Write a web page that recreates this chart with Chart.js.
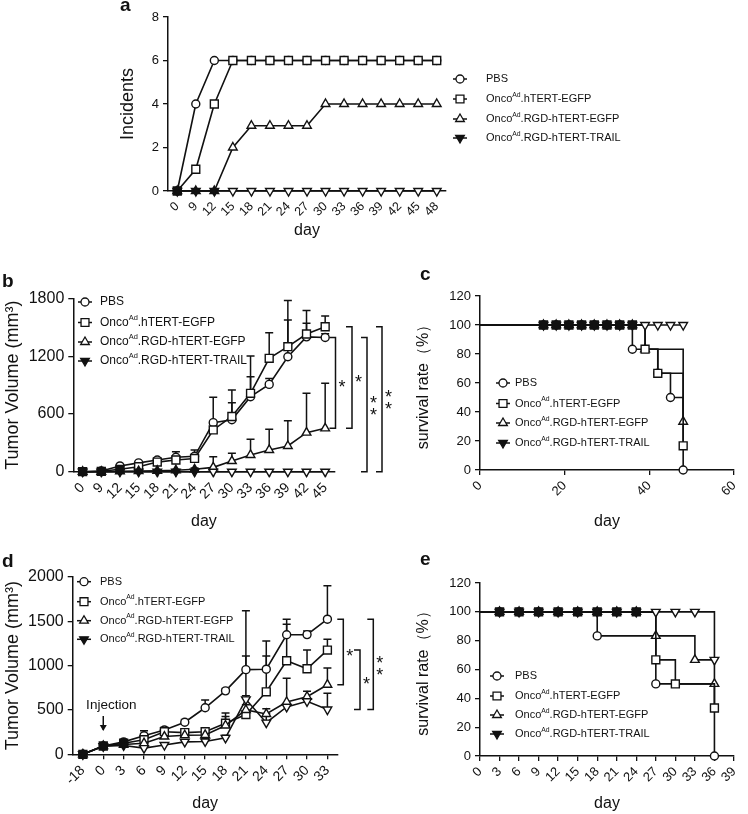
<!DOCTYPE html>
<html><head><meta charset="utf-8">
<script src="https://cdn.jsdelivr.net/npm/chart.js@4.4.1/dist/chart.umd.min.js"></script>
<style>
html,body{margin:0;padding:0;background:#fff;}
body{width:748px;height:814px;position:relative;overflow:hidden;}
canvas{position:absolute;}
</style></head><body>
<canvas id="ca" style="left:0;top:0;width:748px;height:244px" width="748" height="244"></canvas>
<canvas id="cb" style="left:0;top:250px;width:400px;height:285px" width="400" height="285"></canvas>
<canvas id="cc" style="left:380px;top:250px;width:368px;height:285px" width="368" height="285"></canvas>
<canvas id="cd" style="left:0;top:540px;width:400px;height:277px" width="400" height="277"></canvas>
<canvas id="ce" style="left:380px;top:540px;width:368px;height:277px" width="368" height="277"></canvas>
<script>
// ---------------- DATA ----------------
const seriesNames = ['PBS', 'Onco{Ad}.hTERT-EGFP', 'Onco{Ad}.RGD-hTERT-EGFP', 'Onco{Ad}.RGD-hTERT-TRAIL'];

// Panel a: incidents
const daysA = ['0','9','12','15','18','21','24','27','30','33','36','39','42','45','48'];
const incPBS   = [0,4,6,6,6,6,6,6,6,6,6,6,6,6,6];
const incEGFP  = [0,1,4,6,6,6,6,6,6,6,6,6,6,6,6];
const incRGD   = [0,0,0,2,3,3,3,3,4,4,4,4,4,4,4];
const incTRAIL = [0,0,0,0,0,0,0,0,0,0,0,0,0,0,0];
const ticksA_y = [0,2,4,6,8];

// Panel b: tumor volume
const daysB = ['0','9','12','15','18','21','24','27','30','33','36','39','42','45'];
const volB_PBS   = [0, 8, 60, 92, 122, 150, 160, 510, 540, 780, 908, 1195, 1402, 1395];
const volB_EGFP  = [0, 4, 25, 52, 100, 122, 138, 434, 574, 815, 1179, 1300, 1432, 1507];
const volB_RGD   = [0, 0, 4, 6, 10, 15, 25, 45, 111, 174, 226, 267, 406, 451];
const volB_TRAIL = [0, 0, 0, 0, 0, 0, 0, 0, 0, 0, 0, 0, 0, 0];
const errB_PBS   = [0, 0, 10, 14, 22, 58, 66, 264, 178, 208, 60, 584, 141, 40];
const errB_EGFP  = [0, 0, 8, 15, 25, 38, 40, 60, 276, 388, 267, 278, 243, 112];
const errB_RGD   = [0, 0, 0, 0, 4, 8, 14, 111, 80, 163, 215, 264, 409, 468];
const errB_TRAIL = [0, 0, 0, 0, 0, 0, 0, 0, 0, 0, 0, 0, 0, 0];

// Panel c: survival
const survC_PBS_x   = [0,15,18,21,24,27,30,33,36,42,45,48];
const survC_PBS_y   = [100,100,100,100,100,100,100,100,83.3,66.7,50,0];
const survC_EGFP_x  = [0,15,18,21,24,27,30,33,36,39,42,48];
const survC_EGFP_y  = [100,100,100,100,100,100,100,100,100,83.3,66.7,16.7];
const survC_RGD_x   = [0,15,18,21,24,27,30,33,36,39,48];
const survC_RGD_y   = [100,100,100,100,100,100,100,100,100,83.3,33.3];
const survC_TRAIL_x = [0,15,18,21,24,27,30,33,36,39,42,45,48];
const survC_TRAIL_y = [100,100,100,100,100,100,100,100,100,100,100,100,100];

// Panel d: tumor volume
const daysD = ['-18','0','3','6','9','12','15','18','21','24','27','30','33'];
const volD_PBS   = [0, 94, 140, 210, 274, 362, 525, 716, 955, 960, 1348, 1350, 1524];
const volD_EGFP  = [0, 94, 125, 165, 255, 245, 255, 350, 448, 705, 1055, 965, 1176];
const volD_RGD   = [0, 94, 110, 125, 200, 215, 218, 325, 500, 455, 590, 650, 785];
const volD_TRAIL = [0, 90, 100, 70, 105, 140, 145, 185, 620, 357, 535, 598, 505];
const errD_PBS   = [0, 8, 15, 56, 30, 30, 87, 25, 665, 318, 175, 41, 378];
const errD_EGFP  = [0, 8, 15, 40, 30, 30, 40, 115, 661, 404, 411, 211, 121];
const errD_RGD   = [0, 5, 10, 30, 30, 30, 40, 100, 60, 60, 267, 60, 188];
const errD_TRAIL = [0, 5, 10, 20, 20, 20, 30, 30, 40, 100, 40, 40, 183];

// Panel e: survival
const survE_PBS_x   = [0,3,6,9,12,15,18,27,36];
const survE_PBS_y   = [100,100,100,100,100,100,83.3,50,0];
const survE_EGFP_x  = [0,3,6,9,12,15,18,21,24,27,30,36];
const survE_EGFP_y  = [100,100,100,100,100,100,100,100,100,66.7,50,33.3];
const survE_RGD_x   = [0,3,6,9,12,15,18,21,24,27,33,36];
const survE_RGD_y   = [100,100,100,100,100,100,100,100,100,83.3,66.7,50];
const survE_TRAIL_x = [0,3,6,9,12,15,18,21,24,27,30,33,36];
const survE_TRAIL_y = [100,100,100,100,100,100,100,100,100,100,100,100,66.7];

// ---------------- STYLE ----------------
const BLACK = '#111';
const FONT = "'Liberation Sans', Arial, Helvetica, sans-serif";
const markerStyle = [
  {pointStyle: 'circle', rotation: 0, r: 4},
  {pointStyle: 'rect', rotation: 0, r: 5.6},
  {pointStyle: 'triangle', rotation: 0, r: 5},
  {pointStyle: 'triangle', rotation: 180, r: 5}
];

function drawMarker(ctx, k, x, y, fill) {
  const r = markerStyle[k].r;
  ctx.beginPath();
  if (k === 0) ctx.arc(x, y, r, 0, Math.PI * 2);
  else if (k === 1) { const s = r * Math.SQRT1_2; ctx.rect(x - s, y - s, 2 * s, 2 * s); }
  else {
    const d = (k === 2) ? -1 : 1;
    ctx.moveTo(x, y + d * r);
    ctx.lineTo(x + r * 0.866, y - d * r * 0.5);
    ctx.lineTo(x - r * 0.866, y - d * r * 0.5);
    ctx.closePath();
  }
  ctx.fillStyle = fill; ctx.fill(); ctx.stroke();
}

function drawLabel(ctx, text, x, y, size) {
  const parts = text.split(/(\{[^}]*\})/);
  let cx = x;
  ctx.textBaseline = 'middle'; ctx.textAlign = 'left'; ctx.fillStyle = BLACK;
  parts.forEach(p => {
    if (!p) return;
    if (p[0] === '{') {
      const s = p.slice(1, -1);
      ctx.font = (size * 0.62) + 'px ' + FONT;
      ctx.fillText(s, cx, y - size * 0.38);
      cx += ctx.measureText(s).width;
    } else {
      ctx.font = size + 'px ' + FONT;
      ctx.fillText(p, cx, y);
      cx += ctx.measureText(p).width;
    }
  });
}

// markers that coincide with the TRAIL series look solid in the original (stacked symbols)
function overlapFill(c) {
  const p = c.raw;
  if (!p) return '#fff';
  const dsets = c.chart.data.datasets;
  const tol = (c.chart.options.scales.y.max || 1) * 0.02;
  const same = (q) => q.x === p.x && Math.abs(q.y - p.y) <= tol;
  let hit = false;
  if (c.datasetIndex === 3) {
    for (let k = 0; k < 3 && !hit; k++) hit = dsets[k].data.some(same);
  } else {
    hit = dsets[3].data.some(same);
  }
  return hit ? BLACK : '#fff';
}

function makeDeco(cfg) {
  return {
    id: 'deco',
    beforeDatasetsDraw(chart) {
      const ctx = chart.ctx, ys = chart.scales.y;
      chart.data.datasets.forEach((ds, k) => {
        if (!ds.errors) return;
        const meta = chart.getDatasetMeta(k);
        meta.data.forEach((pt, i) => {
          const e = ds.errors[i];
          if (!e) return;
          const yt = ys.getPixelForValue(ds.data[i].y + e);
          ctx.save();
          ctx.strokeStyle = BLACK; ctx.lineWidth = 1.5;
          ctx.beginPath();
          ctx.moveTo(pt.x, pt.y); ctx.lineTo(pt.x, yt);
          ctx.moveTo(pt.x - 4, yt); ctx.lineTo(pt.x + 4, yt);
          ctx.stroke();
          ctx.restore();
        });
      });
    },
    afterDraw(chart) {
      const ctx = chart.ctx, ys = chart.scales.y, ca = chart.chartArea;
      ctx.save();
      if (cfg.letter) {
        ctx.font = 'bold 19px ' + FONT; ctx.fillStyle = BLACK;
        ctx.textAlign = 'left'; ctx.textBaseline = 'alphabetic';
        ctx.fillText(cfg.letter.t, cfg.letter.x, cfg.letter.y);
      }
      if (cfg.legend) {
        const L = cfg.legend;
        seriesNames.forEach((name, k) => {
          const y = L.ys[k];
          ctx.strokeStyle = BLACK; ctx.lineWidth = 1.5;
          ctx.beginPath(); ctx.moveTo(L.mx - 7, y); ctx.lineTo(L.mx + 7, y); ctx.stroke();
          ctx.lineWidth = 1.3;
          drawMarker(ctx, k, L.mx, y, k === 3 ? BLACK : '#fff');
          drawLabel(ctx, name, L.tx, y, L.size);
        });
      }
      if (cfg.brackets) {
        cfg.brackets.forEach(b => {
          const dsA = chart.data.datasets[b.from[0]], dsB = chart.data.datasets[b.to[0]];
          const y1 = ys.getPixelForValue(dsA.data[b.from[1]].y);
          const y2 = ys.getPixelForValue(dsB.data[b.to[1]].y);
          const x = ca.right + b.dx;
          ctx.strokeStyle = BLACK; ctx.lineWidth = 1.5;
          ctx.beginPath();
          ctx.moveTo(x - 6, y1); ctx.lineTo(x, y1); ctx.lineTo(x, y2); ctx.lineTo(x - 6, y2);
          ctx.stroke();
          const mid = (y1 + y2) / 2;
          ctx.font = '18px ' + FONT; ctx.fillStyle = BLACK;
          ctx.textAlign = 'center'; ctx.textBaseline = 'alphabetic';
          const off = 18 * 0.57;
          if (b.stars === 1) ctx.fillText('*', x + 6.5, mid + off);
          else { ctx.fillText('*', x + 6.5, mid - 6 + off); ctx.fillText('*', x + 6.5, mid + 6 + off); }
        });
      }
      if (cfg.injection) {
        const xs = chart.scales.x;
        const ax = xs.getPixelForValue(cfg.injection.index);
        ctx.fillStyle = BLACK; ctx.textAlign = 'center'; ctx.textBaseline = 'middle';
        ctx.font = '13.5px ' + FONT;
        ctx.fillText('Injection', ax + 8, cfg.injection.ty);
        ctx.strokeStyle = BLACK; ctx.lineWidth = 1.5;
        ctx.beginPath(); ctx.moveTo(ax, cfg.injection.ay0); ctx.lineTo(ax, cfg.injection.ay1 - 1); ctx.stroke();
        ctx.beginPath();
        ctx.moveTo(ax, cfg.injection.ay1);
        ctx.lineTo(ax - 3.5, cfg.injection.ay1 - 6);
        ctx.lineTo(ax + 3.5, cfg.injection.ay1 - 6);
        ctx.closePath(); ctx.fill();
      }
      ctx.restore();
    }
  };
}

function baseScale(size, fixed, isX) {
  return {
    border: {display: true, color: BLACK, width: 1.5},
    grid: {display: true, drawOnChartArea: false, drawTicks: true, tickLength: 5, color: BLACK, lineWidth: 1.3},
    ticks: {color: BLACK, font: {family: FONT, size: size}, padding: 3},
    afterFit: isX ? (s) => { s.height = fixed; } : (s) => { s.width = fixed; }
  };
}

function title(text, size) {
  return {display: true, text: text, color: BLACK, font: {family: FONT, size: size}, padding: {top: 2, bottom: 4}};
}

function lineDs(k, points, errors, survival, order) {
  return {
    label: seriesNames[k],
    data: points,
    errors: errors,
    borderColor: BLACK, borderWidth: 1.6,
    pointStyle: markerStyle[k].pointStyle,
    pointRotation: markerStyle[k].rotation,
    pointRadius: survival ? (c) => (c.dataIndex === 0 ? 0 : markerStyle[k].r) : markerStyle[k].r,
    pointBorderWidth: 1.4,
    pointBackgroundColor: overlapFill,
    pointBorderColor: BLACK,
    stepped: survival ? 'before' : false,
    tension: 0, fill: false, clip: false,
    order: order
  };
}

const idxPts = (vals) => vals.map((v, i) => ({x: i, y: v}));
const xyPts = (xs, ys) => xs.map((x, i) => ({x: x, y: ys[i]}));

function catX(labels, size, h, titleSize) {
  const s = baseScale(size, h, true);
  s.type = 'linear';
  s.min = -0.5; s.max = labels.length - 0.5;
  s.afterBuildTicks = (sc) => { sc.ticks = labels.map((_, i) => ({value: i})); };
  s.ticks.callback = (v) => labels[Math.round(v)];
  s.ticks.autoSkip = false; s.ticks.minRotation = 45; s.ticks.maxRotation = 45;
  s.title = title('day', titleSize);
  return s;
}

function numY(min, max, step, size, w, t, tsize) {
  const s = baseScale(size, w, false);
  s.type = 'linear'; s.min = min; s.max = max;
  s.ticks.stepSize = step; s.ticks.padding = 4;
  s.ticks.callback = (v) => String(v);
  s.title = title(t, tsize);
  return s;
}

function commonOpts(pad, scales) {
  return {
    responsive: false, animation: false, devicePixelRatio: 1, events: [],
    layout: {padding: pad},
    plugins: {legend: {display: false}, tooltip: {enabled: false}, title: {display: false}},
    scales: scales
  };
}

// ---------------- CHART A ----------------
new Chart(document.getElementById('ca'), {
  type: 'line',
  data: {datasets: [
    lineDs(0, idxPts(incPBS), null, false, 3),
    lineDs(1, idxPts(incEGFP), null, false, 2),
    lineDs(2, idxPts(incRGD), null, false, 1),
    lineDs(3, idxPts(incTRAIL), null, false, 0)
  ]},
  options: commonOpts({left: 115, right: 302, top: 17, bottom: 0}, {
    x: catX(daysA, 12.5, 53, 16),
    y: (() => { const s = numY(0, 8, 2, 13, 53, 'Incidents', 18); s.afterBuildTicks = (sc) => { sc.ticks = ticksA_y.map(v => ({value: v})); }; return s; })()
  }),
  plugins: [makeDeco({
    letter: {t: 'a', x: 120, y: 11},
    legend: {mx: 460, tx: 486, ys: [79, 99, 119, 138], size: 11}
  })]
});

// ---------------- CHART B ----------------
new Chart(document.getElementById('cb'), {
  type: 'line',
  data: {datasets: [
    lineDs(0, idxPts(volB_PBS), errB_PBS, false, 3),
    lineDs(1, idxPts(volB_EGFP), errB_EGFP, false, 2),
    lineDs(2, idxPts(volB_RGD), errB_RGD, false, 1),
    lineDs(3, idxPts(volB_TRAIL), errB_TRAIL, false, 0)
  ]},
  options: commonOpts({left: 0, right: 65.5, top: 48.6, bottom: 0}, {
    x: catX(daysB, 14, 63.3, 16),
    y: numY(0, 1800, 600, 16, 73.3, 'Tumor Volume (mm³)', 18)
  }),
  plugins: [makeDeco({
    letter: {t: 'b', x: 2, y: 37},
    legend: {mx: 85, tx: 100, ys: [52, 72.5, 92, 111], size: 12},
    brackets: [
      {dx: 1, from: [0, 13], to: [2, 13], stars: 1},
      {dx: 17.5, from: [1, 13], to: [2, 13], stars: 1},
      {dx: 32.5, from: [0, 13], to: [3, 13], stars: 2},
      {dx: 47.5, from: [1, 13], to: [3, 13], stars: 2}
    ]
  })]
});

// ---------------- CHART C ----------------
(() => {
  const xs = baseScale(13, 65, true);
  xs.type = 'linear'; xs.min = 0; xs.max = 60; xs.ticks.stepSize = 20;
  xs.ticks.minRotation = 45; xs.ticks.maxRotation = 45;
  xs.title = title('day', 16);
  new Chart(document.getElementById('cc'), {
    type: 'line',
    data: {datasets: [
      lineDs(0, xyPts(survC_PBS_x, survC_PBS_y), null, true, 3),
      lineDs(1, xyPts(survC_EGFP_x, survC_EGFP_y), null, true, 1),
      lineDs(2, xyPts(survC_RGD_x, survC_RGD_y), null, true, 2),
      lineDs(3, xyPts(survC_TRAIL_x, survC_TRAIL_y), null, true, 0)
    ]},
    options: commonOpts({left: 32, right: 6, top: 46, bottom: 0}, {
      x: xs,
      y: numY(0, 120, 20, 13, 68, 'survival rate（%）', 16)
    }),
    plugins: [makeDeco({
      letter: {t: 'c', x: 40, y: 30},
      legend: {mx: 123, tx: 135, ys: [133, 153.5, 173, 193], size: 11}
    })]
  });
})();

// ---------------- CHART D ----------------
new Chart(document.getElementById('cd'), {
  type: 'line',
  data: {datasets: [
    lineDs(0, idxPts(volD_PBS), errD_PBS, false, 3),
    lineDs(1, idxPts(volD_EGFP), errD_EGFP, false, 2),
    lineDs(2, idxPts(volD_RGD), errD_RGD, false, 1),
    lineDs(3, idxPts(volD_TRAIL), errD_TRAIL, false, 0)
  ]},
  options: commonOpts({left: 0, right: 62.4, top: 37, bottom: 0}, {
    x: catX(daysD, 14, 62.7, 16),
    y: numY(0, 2000, 500, 16, 72.7, 'Tumor Volume (mm³)', 18)
  }),
  plugins: [makeDeco({
    letter: {t: 'd', x: 2, y: 27},
    legend: {mx: 84, tx: 100, ys: [41.7, 61.7, 80.7, 99.3], size: 11},
    brackets: [
      {dx: 5.7, from: [0, 12], to: [2, 12], stars: 1},
      {dx: 22.4, from: [1, 12], to: [3, 12], stars: 1},
      {dx: 35.7, from: [0, 12], to: [3, 12], stars: 2}
    ],
    injection: {index: 1, ty: 165.7, ay0: 176, ay1: 191}
  })]
});

// ---------------- CHART E ----------------
(() => {
  const xs = baseScale(13, 61, true);
  xs.type = 'linear'; xs.min = 0; xs.max = 39; xs.ticks.stepSize = 3;
  xs.ticks.minRotation = 45; xs.ticks.maxRotation = 45; xs.ticks.autoSkip = false;
  xs.title = title('day', 16);
  new Chart(document.getElementById('ce'), {
    type: 'line',
    data: {datasets: [
      lineDs(0, xyPts(survE_PBS_x, survE_PBS_y), null, true, 3),
      lineDs(1, xyPts(survE_EGFP_x, survE_EGFP_y), null, true, 1),
      lineDs(2, xyPts(survE_RGD_x, survE_RGD_y), null, true, 2),
      lineDs(3, xyPts(survE_TRAIL_x, survE_TRAIL_y), null, true, 0)
    ]},
    options: commonOpts({left: 32, right: 9, top: 43, bottom: 0}, {
      x: xs,
      y: numY(0, 120, 20, 13, 68, 'survival rate（%）', 16)
    }),
    plugins: [makeDeco({
      letter: {t: 'e', x: 40, y: 25},
      legend: {mx: 117, tx: 135, ys: [136, 156, 175, 194], size: 11}
    })]
  });
})();
</script>
</body></html>
